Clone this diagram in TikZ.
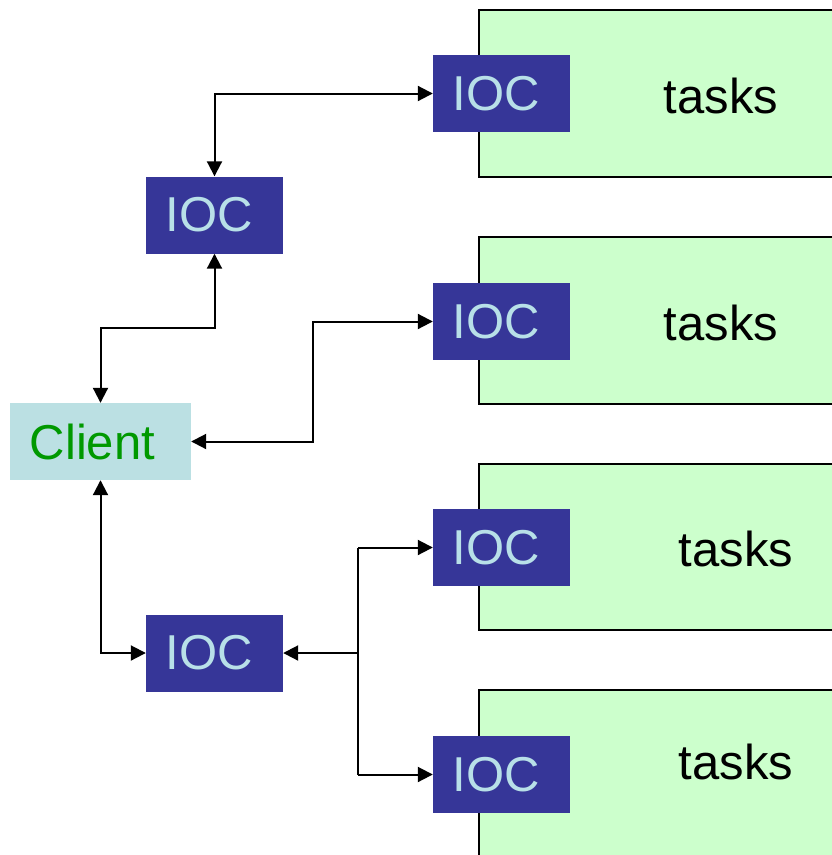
\documentclass[tikz,border=0pt]{standalone}
\usepackage{fontspec}
\setmainfont{Liberation Sans}
\usetikzlibrary{arrows.meta}
\definecolor{iocblue}{HTML}{363698}
\definecolor{ioctext}{HTML}{B8E0E8}
\definecolor{clientfill}{HTML}{BBE0E3}
\definecolor{clienttext}{HTML}{009900}
\definecolor{taskfill}{HTML}{CCFFCC}
\tikzset{
  big/.style={font=\fontsize{49}{58}\selectfont},
  ioc/.style={fill=iocblue, text=ioctext, big, minimum width=137pt, minimum height=77pt, inner sep=0pt,
    execute at begin node={\hspace*{-10pt}}},
  clientbox/.style={fill=clientfill, minimum width=181pt, minimum height=77pt, inner sep=0pt},
  taskbox/.style={fill=taskfill, draw=black, line width=2pt},
  tasklabel/.style={big, text=black, inner sep=0pt},
  tip/.tip={Triangle[length=15pt,width=15pt]},
  link/.style={line width=2pt, tip-tip},
  onelink/.style={line width=2pt, -tip}
}
\begin{document}
\begin{tikzpicture}[x=1pt,y=-1pt]
\useasboundingbox (0,0) rectangle (832,855);
\clip (0,0) rectangle (832,855);

% task areas, running off the right and bottom edges
\draw[taskbox] (479,10)  rectangle (845,177);
\draw[taskbox] (479,237) rectangle (845,404);
\draw[taskbox] (479,464) rectangle (845,630);
\draw[taskbox] (479,690) rectangle (845,870);
\node[tasklabel] (t1) at (721,96)  {tasks};
\node[tasklabel] (t2) at (721,323) {tasks};
\node[tasklabel] (t3) at (736,549) {tasks};
\node[tasklabel] (t4) at (736,762) {tasks};

% IOCs attached to the task areas
\node[ioc] (r1) at (501.5,93.5)  {IOC};
\node[ioc] (r2) at (501.5,321.5) {IOC};
\node[ioc] (r3) at (501.5,547.5) {IOC};
\node[ioc] (r4) at (501.5,774.5) {IOC};

% gateway IOCs and the client
\node[ioc] (ga) at (214.5,215) {IOC};
\node[ioc] (gb) at (214.5,653) {IOC};
\node[clientbox] (client) at (100.5,441.5) {};
\node[big, text=clienttext, inner sep=0pt] (clientlabel) at ([xshift=-8pt]client.center) {Client};

% bend points of the routed links
\coordinate (bendA) at (100.5,328);
\coordinate (bendB) at (313,321.5);
\coordinate (fork) at (358,653);
\coordinate (forkTop) at (358,547.5);
\coordinate (forkBot) at (358,774.5);

% connections
\draw[link] (ga.north) |- (r1.west);
\draw[link] (ga.south) |- (bendA) -- (client.north);
\draw[link] (client.east) -| (bendB) -- (r2.west);
\draw[link] (client.south) |- (gb.west);
\draw[onelink] (fork) -- (gb.east);
\draw[line width=2pt] (forkTop) -- (forkBot);
\draw[onelink] (forkTop) -- (r3.west);
\draw[onelink] (forkBot) -- (r4.west);
\end{tikzpicture}
\end{document}
